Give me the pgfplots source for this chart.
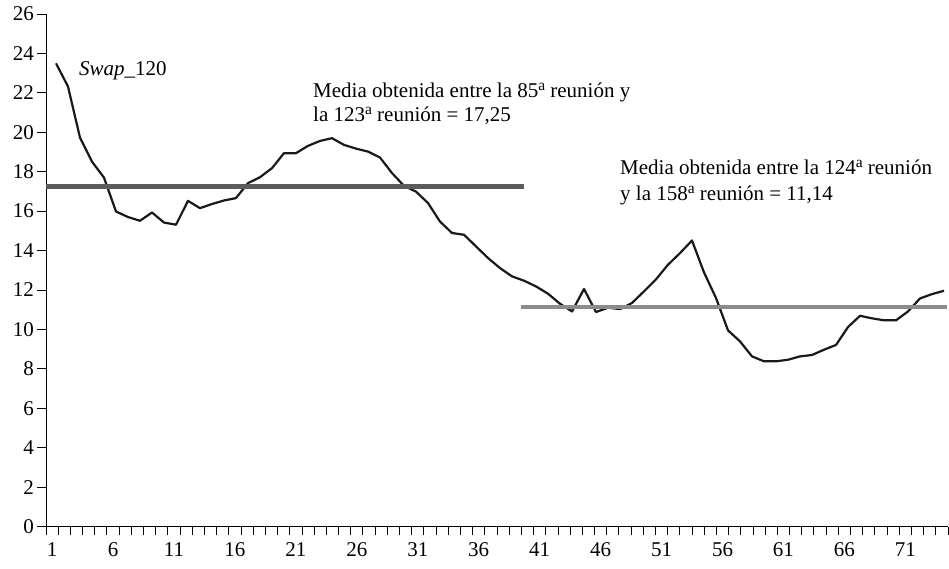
\documentclass[border=0pt]{standalone}
\usepackage{fontspec}
\setmainfont{Liberation Serif}
\usepackage{pgfplots}
\pgfplotsset{compat=1.18}
\usepackage{pgfplotstable}

\definecolor{meanA}{HTML}{5C5C5C}
\definecolor{meanB}{HTML}{8C8C8C}
\newcommand{\supa}{\raisebox{0.75ex}{\fontsize{15.5}{15.5}\selectfont a}}

\pgfplotstableread{
x y
1 23.50
2 22.32
3 19.73
4 18.51
5 17.70
6 15.98
7 15.70
8 15.51
9 15.93
10 15.42
11 15.31
12 16.52
13 16.15
14 16.36
15 16.54
16 16.66
17 17.42
18 17.72
19 18.18
20 18.94
21 18.94
22 19.31
23 19.56
24 19.70
25 19.36
26 19.17
27 19.02
28 18.72
29 17.93
30 17.28
31 16.99
32 16.41
33 15.47
34 14.89
35 14.80
36 14.21
37 13.62
38 13.11
39 12.69
40 12.47
41 12.18
42 11.81
43 11.30
44 10.91
45 12.05
46 10.88
47 11.10
48 11.03
49 11.34
50 11.93
51 12.54
52 13.28
53 13.87
54 14.51
55 12.89
56 11.59
57 9.95
58 9.39
59 8.63
60 8.38
61 8.38
62 8.46
63 8.63
64 8.70
65 8.97
66 9.21
67 10.12
68 10.69
69 10.56
70 10.46
71 10.46
72 10.91
73 11.57
74 11.79
75 11.96
}\swapdata

\begin{document}
\begin{tikzpicture}[x=1pt,y=1pt]
\useasboundingbox (0,0) rectangle (949,568);
% curve
\begin{axis}[
  at={(46pt,41.5pt)}, anchor=south west,
  width=902pt, height=512.5pt, scale only axis,
  xmin=0.1677, xmax=75.333, ymin=0, ymax=26,
  hide axis, clip=false]
\addplot[color=black!90, line width=2.2pt, line join=round, mark=none] table[x=x,y=y] {\swapdata};
\end{axis}
% axes and means
\begin{axis}[
  at={(46pt,41.5pt)}, anchor=south west,
  width=902pt, height=512.5pt, scale only axis,
  xmin=0.5, xmax=74.5, ymin=0, ymax=26,
  ytick={0,2,...,26},
  minor ytick={0,2,...,26},
  xtick={1,6,...,71},
  minor xtick={0.5,1.5,...,74.5},
  axis x line*=bottom, axis y line*=left,
  axis line style={-, line width=0.9pt, black},
  tick align=outside, major tick length=0pt, minor tick length=8.5pt,
  tick style={black, line width=0.9pt},
  ticklabel style={font=\fontsize{21}{25}\selectfont},
  xticklabel style={yshift=-13pt},
  yticklabel style={xshift=-8.5pt},
  /pgf/number format/assume math mode=true,
  clip=false]
\addplot[color=meanA, line width=4.8pt, mark=none] coordinates {(0.5,17.25) (39.74,17.25)};
\addplot[color=meanB, line width=4.8pt, mark=none] coordinates {(39.44,11.14) (74.4,11.14)};
\end{axis}
\begin{scope}[every node/.style={inner sep=0pt, anchor=base west, font=\fontsize{21}{25}\selectfont}]
\node at (79,492) {\textit{Swap}\_120};
\node at (313,470.7) {Media obtenida entre la 85\supa{} reunión y};
\node at (313,446.3) {la 123\supa{} reunión = 17,25};
\node at (620,393) {Media obtenida entre la 124\supa{} reunión};
\node at (620,367.3) {y la 158\supa{} reunión = 11,14};
\end{scope}
\end{tikzpicture}
\end{document}
